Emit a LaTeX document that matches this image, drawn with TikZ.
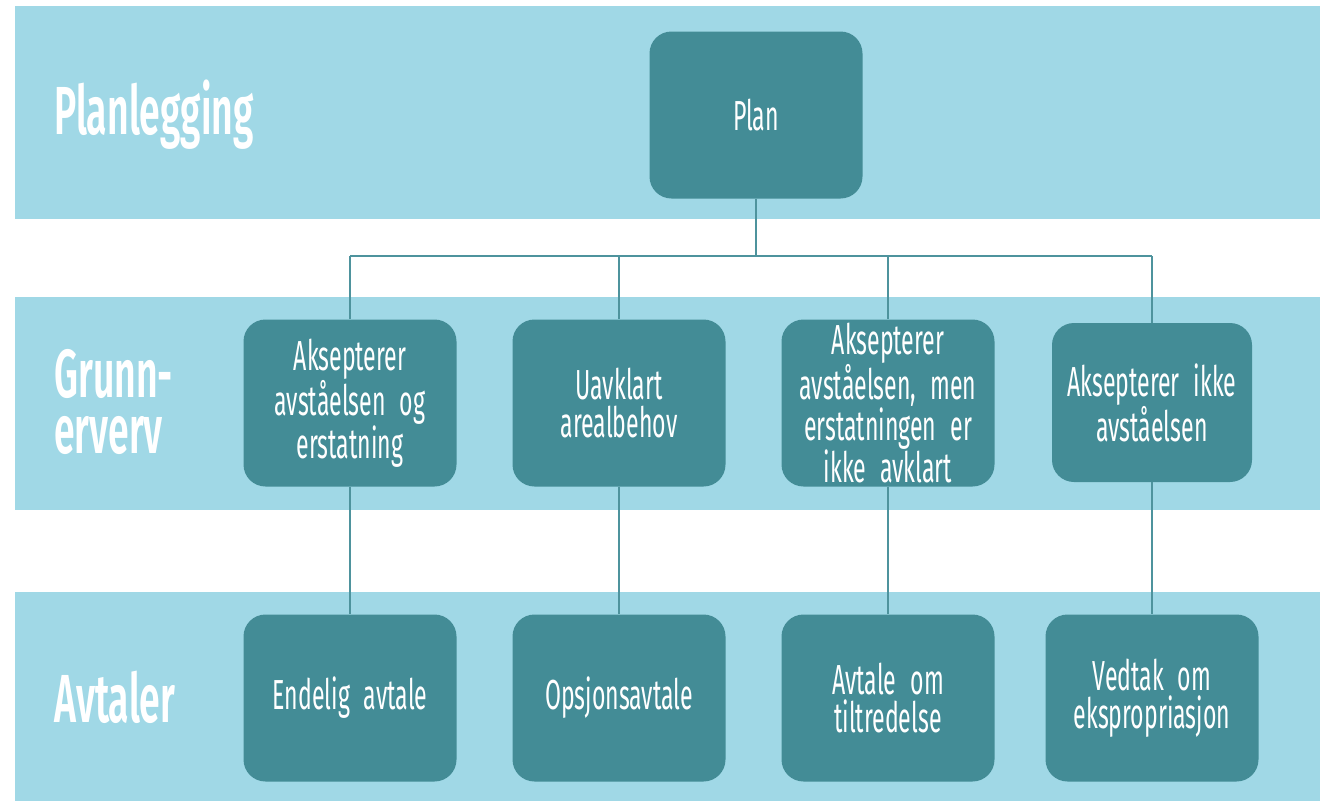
\documentclass[tikz,border=0pt]{standalone}
\usepackage{fontspec}
\setmainfont[FakeStretch=0.55]{Fira Sans}
\newfontfamily\headfont[FakeStretch=0.55]{Fira Sans SemiBold}
\newcommand\myboxfont{\fontsize{42}{37.5}\selectfont\spaceskip=7pt plus 2pt minus 1pt\relax}
\begin{document}
\begin{tikzpicture}[x=1pt,y=-1pt]
\definecolor{bandblue}{HTML}{A0D8E6}
\definecolor{boxteal}{HTML}{438C96}
\definecolor{linkteal}{HTML}{4E939D}
\tikzset{
  band/.style={fill=bandblue,draw=none},
  tbox/.style={fill=boxteal,draw=none,rounded corners=22pt,minimum width=213pt,minimum height=167pt,
    text width=200pt,align=center,text=white,inner sep=0pt,
    font=\myboxfont},
  head/.style={anchor=west,text=white,inner sep=0pt,align=left,
    font=\headfont\fontsize{68}{56}\selectfont},
  link/.style={draw=linkteal,line width=1.6pt}
}
\useasboundingbox (0,0) rectangle (1320,801);
\fill[white] (0,0) rectangle (1320,801);
\path[band] (15,6) rectangle (1320,219);
\path[band] (15,297) rectangle (1320,510);
\path[band] (15,592) rectangle (1320,801);

\node[head] (h1) at (54,115) {Planlegging};
\node[head] (h2) at (54,402) {Grunn-\\erverv};
\node[head] (h3) at (54,697) {Avtaler};

\node[tbox] (plan) at (756,115) {Plan};

\node[tbox] (b1) at (350,403) {Aksepterer\\avståelsen og\\erstatning};
\node[tbox] (b2) at (619,403) {Uavklart\\arealbehov};
\node[tbox] (b3) at (888,403) {Aksepterer\\avståelsen, men\\erstatningen er\\ikke avklart};
\node[tbox,minimum width=198pt,minimum height=159pt] (b4) at (1152,402.5) {Aksepterer ikke\\avståelsen};

\node[tbox] (c1) at (350,698) {Endelig avtale};
\node[tbox] (c2) at (619,698) {Opsjonsavtale};
\node[tbox] (c3) at (888,698) {Avtale om\\tiltredelse};
\node[tbox] (c4) at (1152,698) {Vedtak om\\ekspropriasjon};

\coordinate (j) at (756,256);
\coordinate (j1) at (350,256);
\coordinate (j2) at (619,256);
\coordinate (j3) at (888,256);
\coordinate (j4) at (1152,256);

\draw[link] (plan.south) -- (j);
\draw[link] (j1) -- (j4);
\draw[link] (j1) -- (b1.north);
\draw[link] (j2) -- (b2.north);
\draw[link] (j3) -- (b3.north);
\draw[link] (j4) -- (b4.north);
\draw[link] (b1.south) -- (c1.north);
\draw[link] (b2.south) -- (c2.north);
\draw[link] (b3.south) -- (c3.north);
\draw[link] (b4.south) -- (c4.north);
\end{tikzpicture}
\end{document}
